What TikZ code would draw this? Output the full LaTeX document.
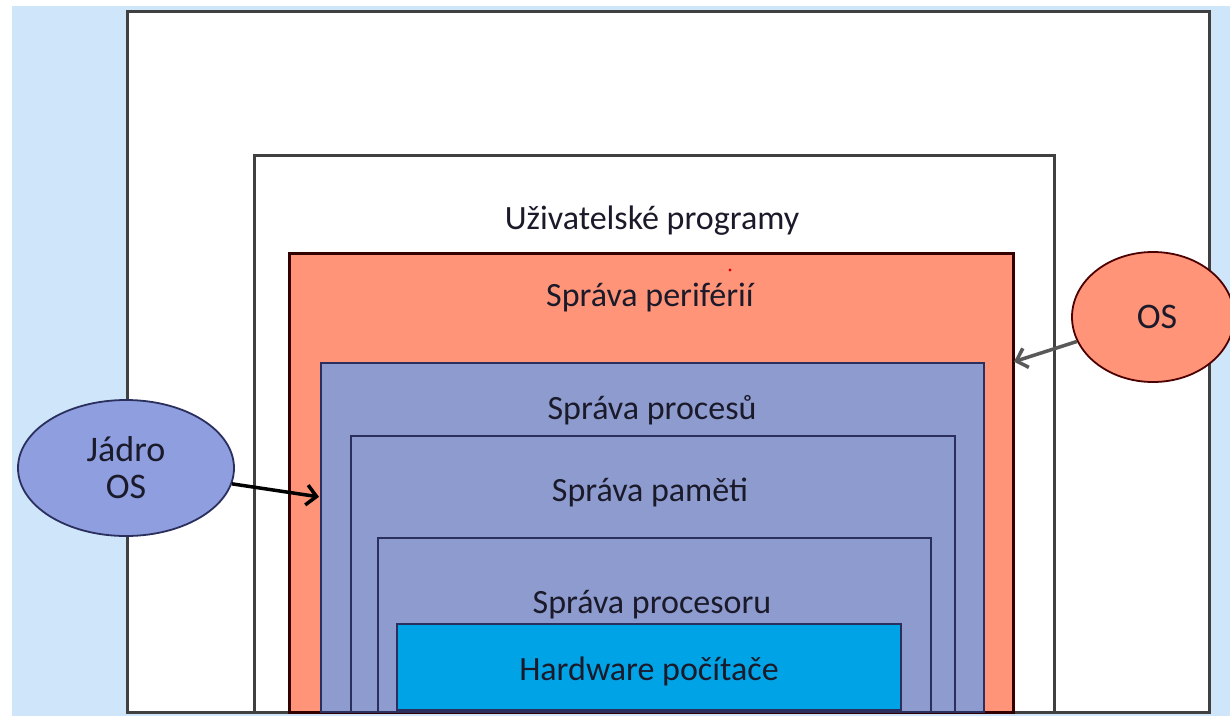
\documentclass[tikz,border=0pt]{standalone}
\usepackage{fontspec}
\setmainfont{Carlito}
\usetikzlibrary{shapes.geometric,arrows.meta}
\definecolor{slidebg}{HTML}{CFE6FA}
\definecolor{salmon}{HTML}{FF9478}
\definecolor{lav}{HTML}{8E9BCE}
\definecolor{hwblue}{HTML}{00A4E6}
\definecolor{navy}{HTML}{2A2F5E}
\definecolor{txt}{HTML}{1A1A2A}
\definecolor{edge}{HTML}{404040}
\definecolor{jadrofill}{HTML}{8E9EDE}
\tikzset{
  box/.style={draw=edge, line width=2.5pt, anchor=north west, inner sep=0pt},
  labeltext/.style={anchor=base, inner sep=0pt, text=txt, font=\fontsize{34}{36}\selectfont},
  bubble/.style={ellipse, line width=1.8pt, inner sep=0pt, text=txt, align=center, font=\fontsize{36}{37}\selectfont},
  pointer/.style={line width=3.5pt, -{Straight Barb[length=10pt,width=20pt,line width=3.5pt]}, shorten >=1pt}
}
\begin{document}
\begin{tikzpicture}[x=1pt,y=-1pt]
\useasboundingbox (0,0) rectangle (1230,716);
\fill[white] (0,0) rectangle (1230,716);
\fill[slidebg] (12,6) rectangle (1230,716);
% boxes
\node[box, fill=white, minimum width=1082pt, minimum height=701pt] (outer) at (126,10) {};
\node[box, fill=white, minimum width=800pt, minimum height=557pt] (user) at (253,154) {};
\node[box, draw=black!80!red, fill=salmon, minimum width=724pt, minimum height=459pt] (perif) at (288,252) {};
\node[box, draw=navy, line width=2pt, fill=lav, minimum width=663pt, minimum height=349pt] (procesu) at (320,362) {};
\node[box, draw=navy, line width=2pt, fill=lav, minimum width=604pt, minimum height=276pt] (pameti) at (350,435) {};
\node[box, draw=navy, line width=2pt, fill=lav, minimum width=553pt, minimum height=174pt] (procesoru) at (377,537) {};
\node[box, draw=navy, line width=2pt, fill=hwblue, minimum width=504pt, minimum height=86pt] (hw) at (396,623) {};
\fill[red!85!black] (730,270) circle (1.6pt);
% labels
\node[labeltext] (tuser) at (652,229) {Uživatelské programy};
\node[labeltext] (tperif) at (650,306) {Správa periférií};
\node[labeltext] (tprocesu) at (652,419) {Správa procesů};
\node[labeltext] (tpameti) at (650,501) {Správa paměti};
\node[labeltext] (tprocesoru) at (652,613) {Správa procesoru};
\node[labeltext] (thw) at (649,680) {Hardware počítače};
% ellipses
\node[bubble, draw=navy, fill=jadrofill, minimum width=216pt, minimum height=136pt] (jadro) at (126,468) {Jádro\\OS};
\node[bubble, draw=black!70!red, fill=salmon, minimum width=162pt, minimum height=130pt] (os) at (1153,317) {\hspace*{8pt}OS};
% arrows
\coordinate (jtip) at (320,497);
\coordinate (otip) at (1013,362);
\draw[pointer, draw=black] (jadro) -- (jtip);
\draw[pointer, draw=black!65] (os) -- (otip);
\end{tikzpicture}
\end{document}
